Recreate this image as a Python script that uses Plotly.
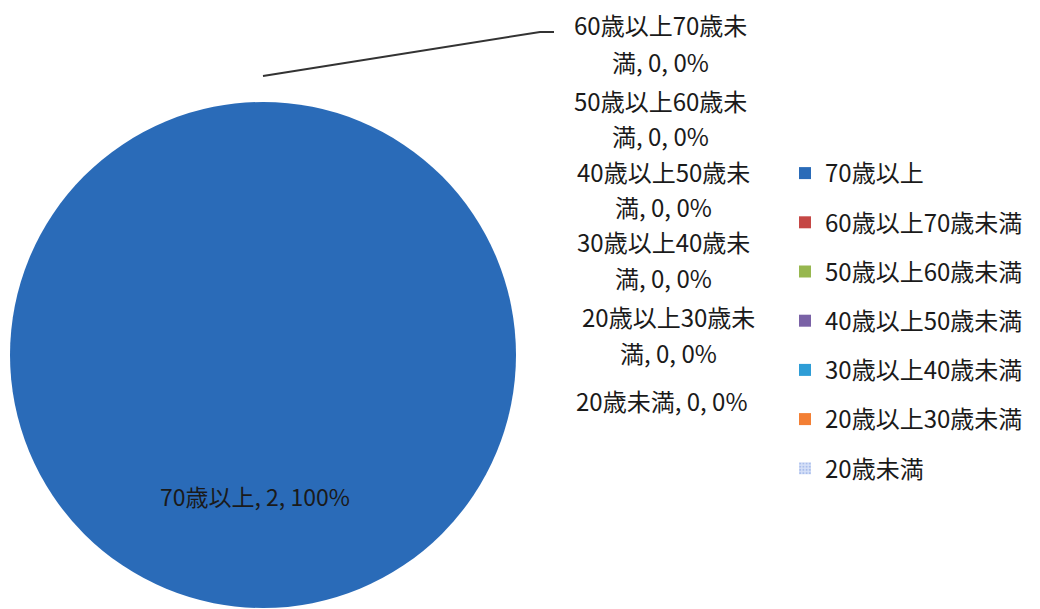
import plotly.graph_objects as go

# ---- data ----
categories = ["70歳以上", "60歳以上70歳未満", "50歳以上60歳未満", "40歳以上50歳未満",
              "30歳以上40歳未満", "20歳以上30歳未満", "20歳未満"]
counts = [2, 0, 0, 0, 0, 0, 0]
colors = ["#2A6BB8", "#C54745", "#97B74F", "#7A62A6", "#2E9DD6", "#F37F34", "#D6E0F7"]

FONT = "Noto Sans CJK JP"
W, H = 1040, 609
OFF = 8  # the page body adds an 8px margin; positions below are in screen pixels


def px(x):
    return (x - OFF) / W


def py(y):
    return 1 - (y - OFF) / H


total = sum(counts)
pcts = [round(100 * c / total) for c in counts]
texts = [f"{c}, {v}, {p}%" for c, v, p in zip(categories, counts, pcts)]

fig = go.Figure()

# pie
fig.add_trace(go.Pie(
    labels=categories, values=counts, sort=False, direction="clockwise",
    rotation=0, marker=dict(colors=colors, line=dict(width=0)),
    textinfo="none", showlegend=False,
    domain=dict(x=[px(10), px(516)], y=[py(608), py(102)]),
    hoverinfo="label+value+percent",
))

# legend entries (one group each, so the rows can be spaced like the original)
for i, (cat, col) in enumerate(zip(categories, colors)):
    marker = dict(color=col, line=dict(width=0))
    if i == len(categories) - 1:
        marker["pattern"] = dict(shape=".", fgcolor="#7E9BE0", bgcolor=col, size=4, solidity=0.35)
    fig.add_trace(go.Bar(x=[None], y=[None], name=cat, marker=marker,
                         legendgroup=f"g{i}", showlegend=True))

# data label inside the big slice
fig.add_annotation(x=px(255), y=py(496), xref="paper", yref="paper",
                   xanchor="center", yanchor="middle", borderpad=0,
                   text=texts[0], showarrow=False,
                   font=dict(family=FONT, size=23, color="#1a1a1a"))

# outside labels for the zero slices (wrapped like the original)
label_y = [43, 118, 189, 259, 334, 400]
label_x = [660, 660, 663, 663, 668, 661]
for t, yc, xc in zip(texts[1:], label_y, label_x):
    if len(t) > 14:
        lines = [t[:9], t[9:]]
    else:
        lines = [t]
    n = len(lines)
    for k, ln in enumerate(lines):
        yy = yc + (k - (n - 1) / 2) * 36
        fig.add_annotation(x=px(xc), y=py(yy), xref="paper", yref="paper",
                           xanchor="center", yanchor="middle", borderpad=0,
                           text=ln, showarrow=False,
                           font=dict(family=FONT, size=24, color="#1a1a1a"))

# leader line for the first zero slice
fig.add_shape(type="path", xref="paper", yref="paper",
              path=f"M {px(263)},{py(76)} L {px(540)},{py(32)} L {px(554)},{py(32)}",
              line=dict(color="#333333", width=2))

fig.update_layout(
    width=W, height=H,
    margin=dict(l=0, r=0, t=0, b=0),
    paper_bgcolor="white", plot_bgcolor="white",
    xaxis=dict(visible=False), yaxis=dict(visible=False),
    font=dict(family=FONT, color="#1a1a1a"),
    legend=dict(x=px(785), y=py(151), xanchor="left", yanchor="top",
                font=dict(family=FONT, size=24, color="#1a1a1a"),
                tracegroupgap=15, bgcolor="rgba(0,0,0,0)"),
    showlegend=True,
)

fig.write_html("out.html")
